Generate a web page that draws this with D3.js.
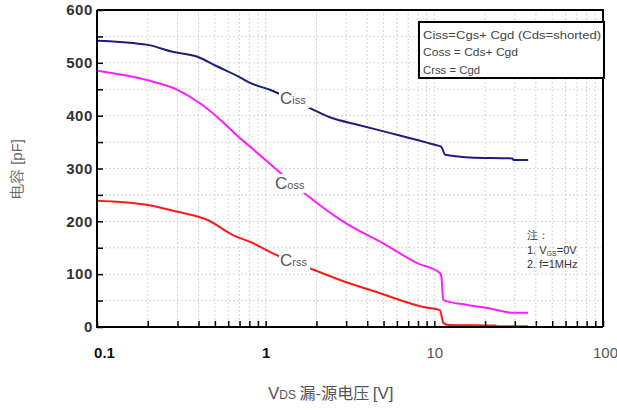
<!DOCTYPE html>
<html><head><meta charset="utf-8">
<script src="https://cdn.jsdelivr.net/npm/d3@7"></script>
<style>body{margin:0;background:#fff}svg{display:block}text{font-family:"Liberation Sans",Arial,sans-serif}</style>
</head><body><svg id="c" width="617" height="412"></svg>
<script>
// data
const cissV = [0.1,0.2,0.28,0.39,0.51,0.7,0.81,1.06,1.78,2.4,3.6,5.5,7.9,10.3,11.0,11.6,16.2,29,29.5,36];
const cissC = [542,534,521,512,494,473,462,449,416,397,382,367,354,344,341,326,321,319,316,316];
const cossV = [0.1,0.2,0.3,0.41,0.54,0.7,0.81,1.14,1.75,3.0,5.0,7.9,10.8,11.0,11.3,15.5,21.3,29,36];
const cossC = [485,467,449,423,392,358,341,300,250,196,158,121,102,96,51,42,35,27,27];
const crssV = [0.1,0.2,0.3,0.45,0.64,0.81,1.11,1.83,2.76,4.76,8.6,10.8,11.3,12,23,23.5,36];
const crssC = [239,231,218,203,174,161,139,111,89,64,38,32,8,4,3,1.5,1.5];
const xTickLabels = [0.1,1,10,100];
const yTickLabels = [0,100,200,300,400,500,600];
const legendLines = ["Ciss=Cgs+ Cgd (Cds=shorted)","Coss = Cds+ Cgd","Crss = Cgd"];

const svg = d3.select("#c");
const L=97,R=603,T=10,B=327;
const x = d3.scaleLog().domain([0.1,100]).range([L,R]);
const y = d3.scaleLinear().domain([0,600]).range([B,T]);

// grid
const minorX = [];
[0.1,1,10].forEach(d=>{for(let k=2;k<=10;k++) minorX.push(d*k);});
const gridX = minorX.filter(v=>v<100);
const gridY = d3.range(50,600,50);
const g = svg.append("g");
g.selectAll(".gx").data(gridX).join("line").attr("x1",d=>x(d)).attr("x2",d=>x(d)).attr("y1",T).attr("y2",B)
 .attr("stroke","#d4d4d4").attr("stroke-width",1).attr("stroke-dasharray","2,2");
g.selectAll(".gy").data(gridY).join("line").attr("x1",L).attr("x2",R).attr("y1",d=>y(d)).attr("y2",d=>y(d))
 .attr("stroke","#d4d4d4").attr("stroke-width",1).attr("stroke-dasharray","2,2");

// series
const line = d3.line().x(d=>x(d[0])).y(d=>y(d[1])).curve(d3.curveMonotoneX);
const series = [
  {v:cissV,c:cissC,col:"#1c1f7a"},
  {v:cossV,c:cossC,col:"#ff1cff"},
  {v:crssV,c:crssC,col:"#ff1a1a"}
];
series.forEach(s=>{
  svg.append("path").datum(s.v.map((v,i)=>[v,s.c[i]])).attr("d",line)
    .attr("fill","none").attr("stroke",s.col).attr("stroke-width",2).attr("stroke-linejoin","round");
});

// curve labels
const curveLabels=[{sub:"iss",x:280,y:104},{sub:"oss",x:275,y:189},{sub:"rss",x:280,y:266}];
curveLabels.forEach(l=>{
  svg.append("rect").attr("x",l.x-1).attr("y",l.y-15).attr("width",31).attr("height",19).attr("fill","#fff");
  const t=svg.append("text").attr("x",l.x).attr("y",l.y).attr("fill","#555");
  t.append("tspan").attr("font-size",17).text("C");
  t.append("tspan").attr("font-size",11).text(l.sub);
});

// axes ticks (inward)
const yAx = svg.append("g").attr("transform",`translate(${L},0)`)
  .call(d3.axisRight(y).tickValues(d3.range(0,601,50)).tickSize(6).tickFormat(""));
const xAx = svg.append("g").attr("transform",`translate(0,${B})`)
  .call(d3.axisTop(x).tickValues(minorX.concat([0.1])).tickSize(6).tickFormat(""));
[yAx,xAx].forEach(a=>{a.select(".domain").remove();a.selectAll("line").attr("stroke","#000").attr("stroke-width",1.5);});

// y labels
const yl = svg.append("g").attr("transform",`translate(${L-3},0)`)
  .call(d3.axisLeft(y).tickValues(yTickLabels).tickSize(0).tickPadding(1));
yl.select(".domain").remove();
yl.selectAll("text").attr("font-size",15).attr("fill","#333").attr("letter-spacing",0.6)
  .attr("font-family","Liberation Sans, Arial, sans-serif").attr("font-weight","bold");

// x labels
const xl = svg.append("g").attr("transform",`translate(0,${B})`)
  .call(d3.axisBottom(x).tickValues(xTickLabels).tickSize(0).tickPadding(20).tickFormat(d=>String(d)));
xl.select(".domain").remove();
xl.selectAll("text").attr("font-size",15).attr("font-family","Liberation Sans, Arial, sans-serif")
  .attr("fill",d=>d<10?"#111":"#555").attr("font-weight",d=>d<10?"bold":"normal")
  .attr("dx",d=>d===0.1?7:(d===100?2:0));

// frame
svg.append("path").attr("d",`M${L},${T}V${B}H${R}`).attr("fill","none").attr("stroke","#000").attr("stroke-width",2);
svg.append("path").attr("d",`M${L},${T}H${R}V${B}`).attr("fill","none").attr("stroke","#000").attr("stroke-width",2);

// legend box
svg.append("rect").attr("x",419).attr("y",22).attr("width",185).attr("height",56)
  .attr("fill","#fff").attr("stroke","#000").attr("stroke-width",2);
legendLines.forEach((s,i)=>{
  const t = svg.append("text").attr("x",423).attr("y",[39,56,74][i]).attr("font-size",11).attr("fill","#444").text(s);
  if(i===0) t.attr("textLength",178).attr("lengthAdjust","spacingAndGlyphs");
  if(i===1) t.attr("textLength",95).attr("lengthAdjust","spacingAndGlyphs");
  if(i===2) t.attr("textLength",57).attr("lengthAdjust","spacingAndGlyphs");
});

// notes
const nt = svg.append("g").attr("fill","#333").attr("font-size",11);
nt.append("text").attr("x",527).attr("y",239).attr("font-family","Noto Sans CJK SC").text("注：");
const n1 = nt.append("text").attr("x",527).attr("y",254);
n1.append("tspan").text("1. V");
n1.append("tspan").attr("font-size",7).attr("dy",2).text("GS");
n1.append("tspan").attr("dy",-2).text("=0V");
nt.append("text").attr("x",527).attr("y",268).text("2. f=1MHz");

// axis titles
const xt = svg.append("text").attr("x",268).attr("y",399).attr("fill","#555").attr("font-size",17);
xt.append("tspan").text("V");
xt.append("tspan").attr("font-size",12).text("DS");
xt.append("tspan").attr("font-family","Noto Sans CJK SC, Liberation Sans").attr("font-size",16).text(" 漏-源电压 ");
xt.append("tspan").text("[V]");

svg.append("text").attr("transform","translate(22,169) rotate(-90)").attr("text-anchor","middle")
  .attr("fill","#666").attr("font-size",15).attr("font-family","Noto Sans CJK SC, Liberation Sans").text("电容 [pF]");
</script></body></html>
